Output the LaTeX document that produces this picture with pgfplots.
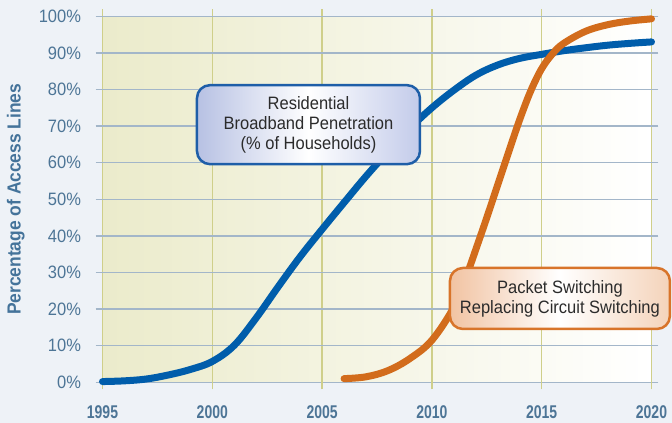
\documentclass[border=0pt]{standalone}
\usepackage{fontspec}
\setmainfont{Liberation Sans}[FakeStretch=0.92]
\newfontfamily\condb{Liberation Sans}[FakeStretch=0.76]
\usepackage{pgfplots}
\pgfplotsset{compat=1.18}
\definecolor{bgc}{HTML}{EEF2F7}
\definecolor{plotl}{HTML}{EBEBCB}
\definecolor{gridx}{HTML}{CFCF8A}
\definecolor{gridy}{HTML}{A3B6C9}
\definecolor{tickc}{HTML}{4D7596}
\definecolor{labc}{HTML}{44739A}
\definecolor{blueline}{HTML}{005DAB}
\definecolor{orangeline}{HTML}{D26C1C}
\definecolor{bluebox}{HTML}{1E5EA8}
\definecolor{bluefillL}{HTML}{B7C1E3}
\definecolor{bluefillR}{HTML}{C3CBEA}
\definecolor{orbox}{HTML}{D8742A}
\definecolor{orfillL}{HTML}{F1C3A2}
\definecolor{orfillR}{HTML}{F4D3BA}
\definecolor{boxtext}{HTML}{2B2B2B}
\begin{document}
\begin{tikzpicture}
\fill[bgc] (-102.5bp,-40.7bp) rectangle (569.5bp,382.3bp);
\begin{axis}[
  at={(0,0)}, anchor=south west,
  scale only axis, width=549bp, height=366bp,
  xmin=1995, xmax=2020, ymin=0, ymax=100,
  axis line style={draw=none},
  xtick={1995,2000,...,2020},
  ytick={0,10,...,100},
  grid=major,
  x grid style={color=gridx, line width=1.3bp},
  y grid style={color=gridy, line width=1.3bp},
  tick align=outside,
  major tick length=7bp,
  x tick style={color=gridx, line width=1.3bp},
  y tick style={color=gridy, line width=1.3bp},
  /pgf/number format/1000 sep={},
  /pgf/number format/assume math mode=true,
  xticklabel style={font=\condb\bfseries\fontsize{18.5}{18.5}\selectfont, text=tickc, yshift=-13bp},
  yticklabel style={font=\fontsize{18}{18}\selectfont, text=tickc, xshift=-11bp},
  yticklabel={\pgfmathprintnumber{\tick}\%},
  ylabel={Percentage of Access Lines},
  every axis y label/.style={at={(axis description cs:-0.158,0.5)}, rotate=90, anchor=center},
  ylabel style={font=\bfseries\fontsize{19}{19}\selectfont, text=labc},
  clip=false,
  axis background/.style={shade, left color=plotl, right color=white},
]
\addplot[blueline, line width=7bp, line cap=round, smooth, tension=0.6] coordinates {
(1995,0.2) (1996,0.4) (1997,0.9) (1998,2.0) (1999,3.5) (2000,5.7) (2001,10.1)
(2002,17.6) (2003,26.1) (2004,34.3) (2005,41.8) (2006,49.1) (2007,56.3) (2008,63)
(2009,69.4) (2010,75) (2011,79.8) (2012,83.9) (2013,86.7) (2014,88.5) (2015,89.6)
(2016,90.6) (2017,91.4) (2018,92.1) (2019,92.6) (2020,93)
};
\addplot[orangeline, line width=7bp, line cap=round, smooth, tension=0.6] coordinates {
(2006,1.0) (2007,1.5) (2008,3.2) (2009,6.5) (2010,11.5) (2011,20.5) (2011.5,27.8)
(2012,36.3) (2012.5,45) (2013,54) (2013.5,63) (2014,71.8) (2014.5,79.6) (2015,85.7)
(2015.5,89.8) (2016,92.6) (2017,95.9) (2018,97.7) (2019,98.7) (2020,99.3)
};
\node[draw=bluebox, line width=2.5bp, rounded corners=13bp,
      left color=bluefillL, right color=bluefillR, middle color=white,
      minimum width=223bp, minimum height=79bp, align=center,
      text=boxtext, font=\fontsize{18}{20}\selectfont]
  at (axis cs:2004.38,70.4) {Residential\\Broadband Penetration\\(\% of Households)};
\node[draw=orbox, line width=2.5bp, rounded corners=13bp,
      left color=orfillL, right color=orfillR, middle color=white,
      minimum width=220bp, minimum height=61bp, align=center,
      text=boxtext, font=\fontsize{18}{20}\selectfont]
  at (axis cs:2015.83,22.9) {Packet Switching\\Replacing Circuit Switching};
\end{axis}
\end{tikzpicture}
\end{document}
